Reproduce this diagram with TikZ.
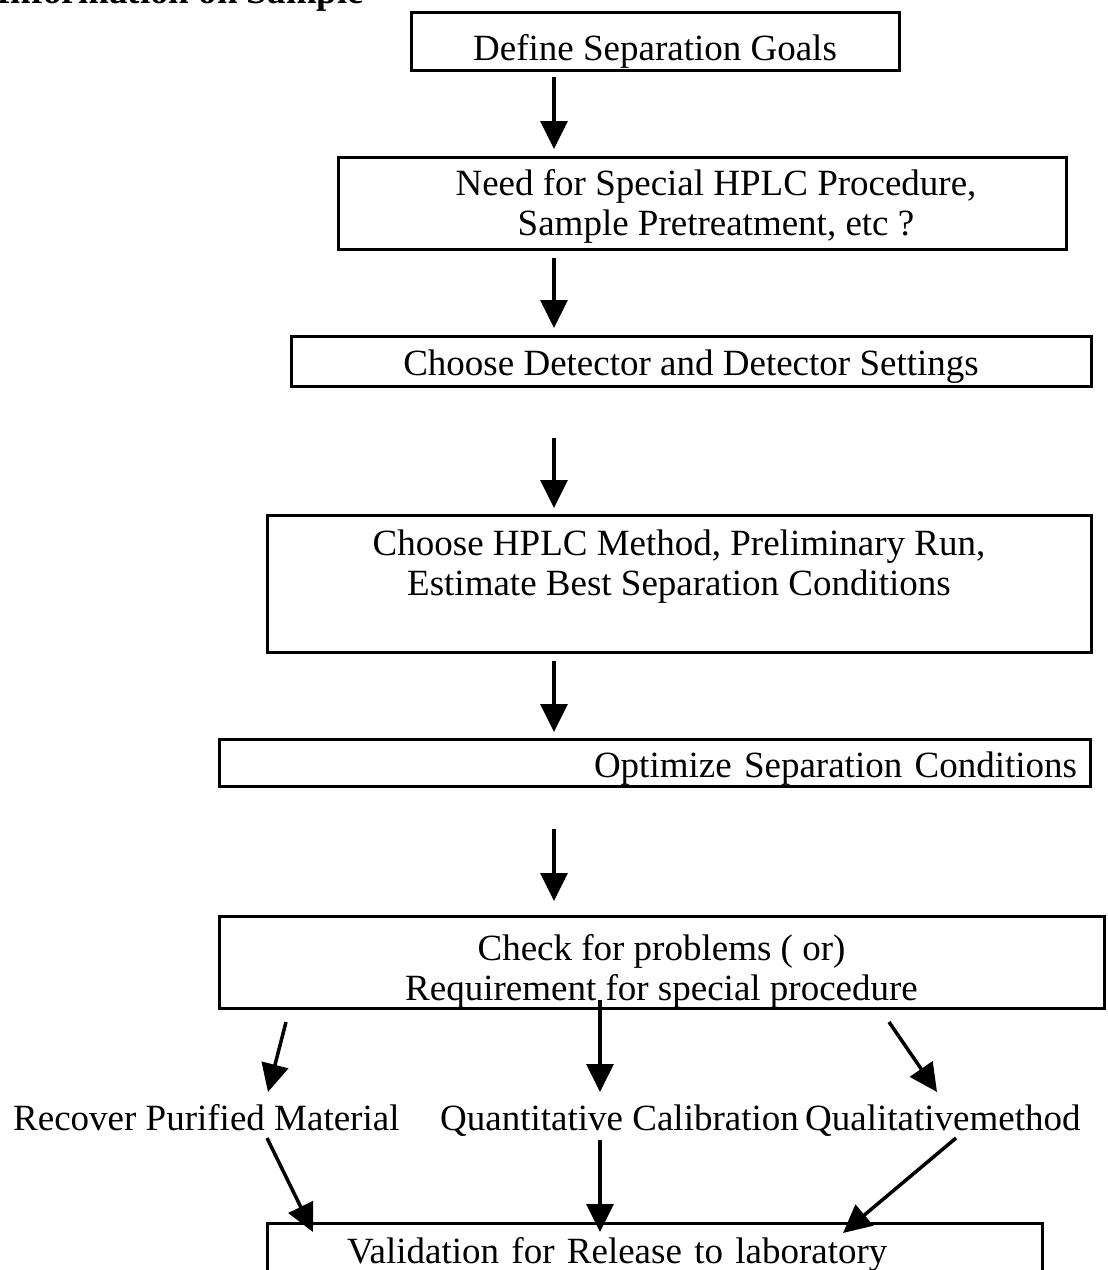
\documentclass[tikz,border=0pt]{standalone}
\usepackage{fontspec}
\setmainfont{Liberation Serif}
\usetikzlibrary{arrows.meta, calc}

\newcommand{\chartfont}{\fontsize{37}{40}\selectfont}

\begin{document}
\begin{tikzpicture}[x=1pt, y=-1pt, align=center, font=\chartfont,
  stepbox/.style={draw, line width=3pt, inner sep=0pt, outer sep=0pt},
  flow/.style={line width=3.5pt, -{Triangle[length=28pt, width=27pt]}}]
\useasboundingbox (0,0) rectangle (1108,1270);
\coordinate (spine) at (554,0);

\path (-4,3) node[anchor=base west, inner sep=0pt, font=\chartfont\bfseries] (info) {Information on Sample}
      (655,41) node[stepbox, minimum width=488pt, minimum height=58pt, text height=46pt, text depth=8pt] (goals) {Define Separation Goals}
      (702,203) node[stepbox, minimum width=728pt, minimum height=92pt, text height=72pt, text depth=8pt] (need) {\hspace*{28pt}Need for Special HPLC Procedure,\\ \hspace*{28pt}Sample Pretreatment, etc ?}
      (691,361) node[stepbox, minimum width=800pt, minimum height=50pt, text height=36pt, text depth=8pt] (detector) {Choose Detector and Detector Settings}
      (679,583.5) node[stepbox, minimum width=824pt, minimum height=137pt, text height=31pt, text depth=8pt] (method) {Choose HPLC Method, Preliminary Run,\\ Estimate Best Separation Conditions}
      (654.5,762.5) node[stepbox, inner xsep=13pt, text width=845pt, align=right, minimum height=47pt, text height=37pt, text depth=8pt] (optimize) {Optimize Separation Conditions}
      (661.5,962) node[stepbox, minimum width=885pt, minimum height=92pt, text height=84pt, text depth=8pt] (check) {Check for problems ( or)\\ Requirement for special procedure};

\path (13,1130) node[anchor=base west, inner sep=0pt] (recover) {Recover Purified Material}
      (440,1130) node[anchor=base west, inner sep=0pt] (quant) {Quantitative Calibration}
      (805,1130) node[anchor=base west, inner sep=0pt] (qual) {Qualitativemethod}
      (267,1223) node[stepbox, anchor=north west, inner xsep=80pt, text width=615pt, align=left, minimum height=80pt, text height=20pt, text depth=20pt] (valid) {Validation for Release to laboratory};

% main chain
\draw[flow, shorten <=7pt, shorten >=8pt] (goals.south -| spine) -- (need.north -| spine);
\draw[flow, shorten <=9pt, shorten >=8pt] (need.south -| spine) -- (detector.north -| spine);
\draw[flow, shorten <=52pt, shorten >=7pt] (detector.south -| spine) -- (method.north -| spine);
\draw[flow, shorten <=9pt, shorten >=7pt] (method.south -| spine) -- (optimize.north -| spine);
\draw[flow, shorten <=43pt, shorten >=15pt] (optimize.south -| spine) -- (check.north -| spine);

% branches
\draw[flow] ($(check.south west)+(67,14)$) -- ($(recover.base west)+(255,-38)$);
\draw[flow] ($(check.south west)+(381,-8)$) -- ($(quant.base west)+(160,-38)$);
\draw[flow] ($(check.south west)+(670,14)$) -- ($(qual.base west)+(132,-38)$);
\draw[flow] ($(recover.base west)+(254,8)$) -- ($(valid.north west)+(46,9)$);
\draw[flow] ($(quant.base west)+(160,10)$) -- ($(valid.north west)+(333,9)$);
\draw[flow] ($(qual.base west)+(151,8)$) -- ($(valid.north west)+(576,10)$);
\end{tikzpicture}
\end{document}
